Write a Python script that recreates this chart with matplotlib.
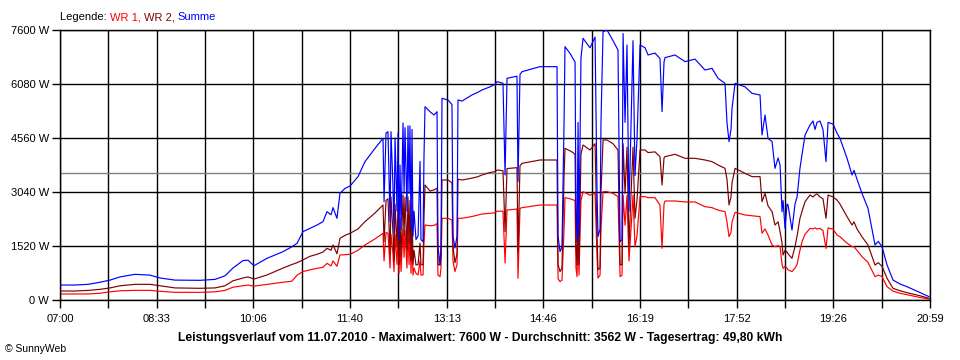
import matplotlib
matplotlib.use("Agg")
import matplotlib.pyplot as plt
import numpy as np

plt.rcParams["font.family"] = ["Liberation Sans", "DejaVu Sans"]

# minutes after 07:00
minutes = [
    0, 14.5, 27.0, 38.6, 48.2, 57.9, 72.3, 86.8, 96.4, 110.9,
    135.0, 149.5, 159.1, 166.8, 176.5, 181.3, 187.1, 199.6, 215.1, 223.7,
    228.6, 234.3, 241.1, 247.9, 253.6, 257.5, 261.4, 263.3, 267.1, 270.0,
    274.9, 279.7, 287.4, 294.1, 303.8, 311.5,
    312.5, 314.4, 316.3, 318.3, 319.2, 321.1, 322.1, 323.1, 325.0, 326.0,
    326.9, 327.9, 328.9, 330.8, 331.8, 332.7, 334.6, 335.6, 336.6, 337.5,
    338.5, 339.5, 340.4, 341.4, 343.3, 345.3, 347.2, 348.1, 350.1, 351.0,
    352.0, 356.8, 360.7, 363.6, 364.5, 366.5, 367.4, 368.4, 374.2, 378.0,
    379.0, 380.9, 382.9, 383.8, 387.7, 397.3, 403.1, 407.0, 414.7, 419.5,
    421.4, 427.2, 429.2, 431.1, 440.7, 441.7, 443.6, 445.6, 462.9,
    479.3, 480.3, 482.2, 484.1, 486.1, 487.0, 491.8, 494.7, 496.7, 497.6,
    498.6, 499.6, 500.5, 502.4, 504.4, 511.1, 516.0, 517.9, 518.8, 520.8,
    521.7, 523.7, 527.5, 533.3, 538.1, 540.1, 542.0, 543.0, 544.9, 546.8,
    548.7, 550.7, 552.6, 554.5, 556.4, 559.4, 564.2, 567.1, 573.8, 578.6,
    580.6, 582.5, 583.5, 593.1, 602.8, 612.4, 622.0, 628.8, 634.6, 641.3,
    643.2, 645.2, 647.1, 648.1, 651.0, 660.6, 667.4, 675.1, 677.0, 679.9,
    682.8, 686.7, 689.5, 692.5, 694.4, 696.3, 697.3, 699.2, 701.1, 702.1,
    705.9, 708.8, 710.8, 713.6, 715.6, 718.5, 723.3, 726.2, 728.1, 730.1,
    732.9, 735.8, 738.7, 740.7, 745.5, 749.3, 752.2, 759.0, 763.8, 765.7,
    768.6, 773.4, 779.2, 786.0, 789.1, 792.7, 797.6, 803.3, 810.1, 816.8,
    829.4, 838.1,
]

summe = [
    422, 422, 440, 500, 560, 650, 723, 700, 620, 560,
    554, 580, 680, 900, 1110, 1120, 966, 1173, 1361, 1500,
    1595, 1924, 2017, 2111, 2205, 2486, 2400, 2600, 2299, 3003,
    3143, 3209, 3472, 3894, 4269, 4551,
    2768, 4700, 4738, 2205, 4738, 3200, 1900, 4560, 2500, 4700,
    1700, 3800, 2000, 4983, 3000, 4850, 2500, 4900, 3000, 4900,
    2000, 4800, 1800, 2500, 1700, 1800, 3900, 1700, 1642, 4000,
    5441, 5300, 5208, 5300, 1500, 985, 1500, 5677, 5630, 5500,
    1800, 1464, 1800, 5630, 5600, 5771, 5850, 5912, 6000, 6071,
    6146, 6100, 3519, 6240, 6300, 3331, 6350, 6428, 6568, 6568,
    1800, 1361, 1500, 5000, 7131, 6943, 6800, 6700, 2500, 1642,
    5000, 1800, 6800, 7365, 7100, 7400, 3000, 1783, 2000, 5000,
    7553, 7600, 7300, 7037, 1642, 1700, 7500, 5000, 7178, 2500,
    5000, 7300, 3500, 4500, 7178, 7100, 6897, 6950, 6800, 5302,
    6700, 6822, 6897, 6709, 6780, 6474, 6520, 6240, 6099, 5000,
    4457, 4800, 5400, 6099, 6000, 5818, 5771, 4645, 5208, 4550,
    4457, 3706, 4000, 3800, 2486, 2800, 2017, 2700, 2674, 1970,
    2700, 2900, 3706, 4100, 4645, 4927, 5039, 4800, 5000, 5039,
    4800, 3894, 5001, 4950, 4700, 4551, 3988, 3519, 3650, 3400,
    3003, 2580, 1548, 1650, 1500, 985, 563, 450, 375, 207,
    94,
]

wr2 = [
    253, 253, 270, 300, 340, 400, 441, 441, 400, 340,
    329, 340, 400, 540, 620, 650, 590, 704, 900, 1000,
    1050, 1130, 1230, 1286, 1350, 1455, 1400, 1550, 1300, 1736,
    1820, 1877, 2000, 2205, 2450, 2674,
    1650, 2800, 2850, 1300, 2900, 1900, 1100, 2700, 1500, 2800,
    1000, 2300, 1200, 2956, 1800, 2900, 1400, 2900, 1600, 2800,
    1100, 2700, 1000, 1400, 985, 1000, 1600, 1000, 985, 2300,
    3237, 3068, 3100, 3150, 1000, 985, 1200, 3378, 3378, 3300,
    1500, 1050, 1300, 3400, 3378, 3430, 3472, 3520, 3590, 3612,
    3660, 3640, 1924, 3700, 3725, 1361, 3780, 3847, 3941, 3941,
    1000, 798, 900, 3500, 4269, 4200, 4150, 4100, 1500, 985,
    3000, 1000, 4100, 4363, 4222, 4400, 1800, 850, 900, 3000,
    4504, 4504, 4400, 4222, 985, 1000, 4400, 3000, 4300, 1500,
    3000, 4300, 2300, 2800, 4222, 4222, 4150, 4170, 4035, 3237,
    4000, 4035, 4101, 3988, 3988, 3941, 3894, 3800, 3706, 3400,
    2674, 2900, 3300, 3706, 3566, 3472, 3472, 2768, 3000, 2650,
    2486, 2111, 2200, 1924, 1600, 1267, 1400, 1350, 1300, 1173,
    1500, 1800, 2299, 2500, 2768, 2956, 2900, 2956, 2990, 2900,
    2850, 2299, 2956, 2900, 2815, 2700, 2346, 2111, 2200, 2000,
    1780, 1548, 985, 1050, 950, 610, 329, 260, 207, 120,
    47,
]

wr1 = [
    169, 169, 169, 190, 230, 260, 272, 272, 245, 216,
    216, 230, 270, 360, 400, 420, 390, 440, 500, 530,
    700, 800, 850, 891, 920, 1032, 960, 1100, 950, 1267,
    1275, 1286, 1400, 1548, 1720, 1877,
    1100, 1900, 1880, 900, 1850, 1300, 800, 1850, 1000, 1900,
    750, 1500, 800, 2000, 1200, 1950, 900, 2000, 1000, 1900,
    750, 1800, 700, 900, 750, 704, 1100, 704, 704, 1600,
    2111, 2090, 2100, 2150, 700, 657, 900, 2299, 2299, 2250,
    1100, 800, 1000, 2300, 2300, 2350, 2393, 2420, 2440, 2458,
    2500, 2500, 1041, 2533, 2560, 610, 2580, 2599, 2674, 2674,
    600, 516, 560, 2000, 2880, 2850, 2820, 2800, 900, 657,
    2000, 700, 2800, 3050, 2950, 3000, 1200, 620, 700, 2000,
    3050, 3050, 3000, 2909, 657, 700, 2950, 2100, 2950, 1100,
    2000, 2950, 1500, 1800, 2909, 2909, 2880, 2880, 2674, 1455,
    2700, 2787, 2787, 2760, 2760, 2627, 2600, 2530, 2486, 2200,
    1783, 1900, 2200, 2467, 2393, 2370, 2346, 1877, 2000, 1830,
    1548, 1500, 1530, 1502, 1000, 891, 950, 900, 850, 798,
    900, 1000, 1400, 1642, 1850, 2017, 2000, 2030, 2000, 2017,
    1950, 1450, 2030, 1990, 1830, 1780, 1600, 1502, 1500, 1400,
    1220, 1060, 657, 700, 660, 375, 250, 188, 150, 70,
    28,
]

tick_labels = ["07:00", "08:33", "10:06", "11:40", "13:13",
               "14:46", "16:19", "17:52", "19:26", "20:59"]
y_ticks = [0, 1520, 3040, 4560, 6080, 7600]
average = 3562

t = np.array(minutes) + 420

fig = plt.figure(figsize=(9.6, 3.6), dpi=100)
ax = fig.add_axes([60 / 960, 60 / 360, 870 / 960, 270 / 360])

start, end = 420, 20 * 60 + 59
major = np.linspace(start, end, len(tick_labels))
minor = np.linspace(start, end, 2 * len(tick_labels) - 1)

for xg in minor:
    ax.axvline(xg, color="black", lw=1, zorder=1)
for yg in y_ticks:
    ax.axhline(yg, color="black", lw=1, zorder=1)
ax.axhline(average, color="#808080", lw=1, zorder=1)

ax.plot(t, wr1, color="#ff0000", lw=0.85, zorder=2)
ax.plot(t, wr2, color="#800000", lw=0.85, zorder=3)
ax.plot(t, summe, color="#0000ff", lw=0.85, zorder=4)

ax.set_xlim(start, end)
ax.set_ylim(0, 7600)
ax.set_xticks(major)
ax.set_xticklabels(tick_labels)
ax.set_xticks(minor, minor=True)
ax.set_yticks(y_ticks)
ax.set_yticklabels([f"{v} W" for v in y_ticks])
ax.tick_params(axis="both", which="both", length=6, width=1, color="black",
               labelsize=8, direction="out")
ax.tick_params(axis="x", pad=4)
ax.tick_params(axis="y", pad=2)
for s in ax.spines.values():
    s.set_linewidth(1)
    s.set_color("black")

# legend line at the top left, coloured words chained one after another
prev = fig.text(60 / 960, 1 - 17 / 360, "Legende: ", fontsize=8,
                color="black", va="center")
for txt, col in [("WR 1, ", "#ff0000"), ("WR 2, ", "#800000"),
                 ("Summe", "#0000ff")]:
    prev = ax.annotate(txt, xy=(1, 0.5), xycoords=prev, va="center",
                       ha="left", fontsize=8, color=col,
                       annotation_clip=False)

fig.text(0.5, 1 - 338 / 360,
         "Leistungsverlauf vom 11.07.2010 - Maximalwert: 7600 W - "
         "Durchschnitt: 3562 W - Tagesertrag: 49,80 kWh",
         ha="center", va="center", fontsize=8.7, fontweight="bold")
fig.text(5 / 960, 1 - 349 / 360, "\u00a9 SunnyWeb", fontsize=7.5,
         va="center", ha="left")

fig.savefig("out.png", dpi=100)
